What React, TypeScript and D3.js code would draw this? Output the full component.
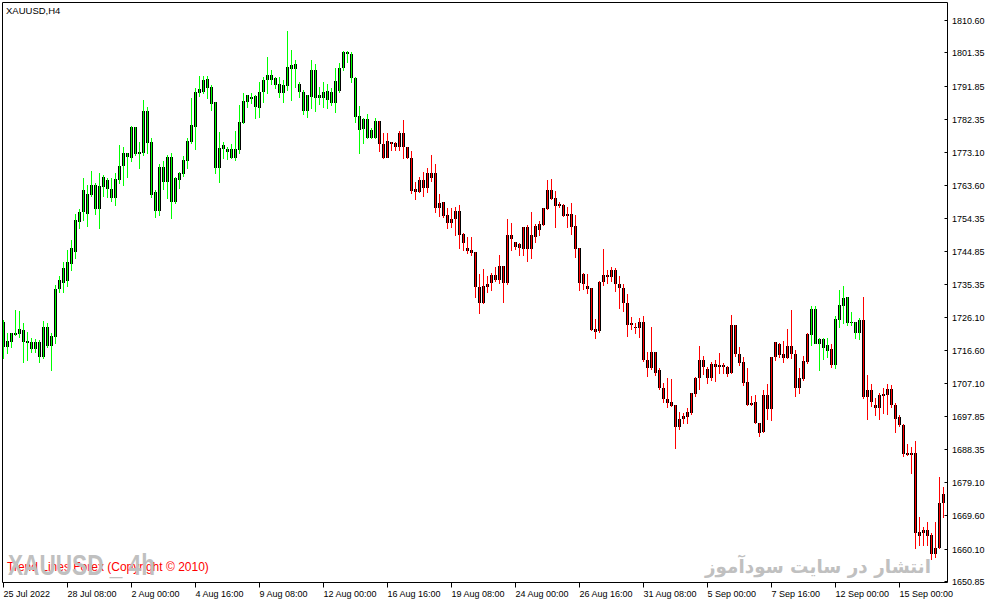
import * as d3 from 'd3';
import { useEffect, useRef } from 'react';

// XAUUSD H4, 236 bars
const symbolTitle = 'XAUUSD,H4';

const opens = [
	1724.6, 1717.5, 1718.9, 1720.9, 1721.2, 1722.4, 1719.2, 1718.9, 1718.9, 1718.9, 1714.7, 1723.2,
	1717.8, 1720.4, 1734.0, 1735.7, 1736.3, 1741.1, 1744.6, 1753.1, 1755.9, 1761.1, 1760.8, 1763.6,
	1756.8, 1763.1, 1765.1, 1762.5, 1759.9, 1765.1, 1769.0, 1772.7, 1771.3, 1780.1, 1772.5, 1772.7,
	1784.7, 1775.9, 1761.6, 1756.2, 1768.8, 1764.5, 1771.6, 1758.8, 1765.1, 1766.8, 1770.5, 1775.9,
	1780.1, 1789.8, 1790.1, 1793.8, 1791.5, 1787.3, 1768.5, 1775.0, 1773.9, 1773.9, 1771.3, 1773.6,
	1781.3, 1787.3, 1788.7, 1789.0, 1785.5, 1790.1, 1793.5, 1795.0, 1794.1, 1792.4, 1789.8, 1791.8,
	1796.7, 1798.1, 1792.4, 1790.1, 1784.7, 1788.7, 1796.4, 1788.4, 1790.1, 1790.4, 1790.1, 1787.0,
	1790.4, 1796.9, 1801.5, 1800.9, 1794.1, 1783.3, 1779.6, 1782.4, 1777.0, 1777.0, 1781.9, 1775.3,
	1771.3, 1775.9, 1775.6, 1774.5, 1778.4, 1774.5, 1771.3, 1761.6, 1761.6, 1765.1, 1762.8, 1767.0,
	1767.0, 1757.1, 1758.8, 1755.1, 1752.8, 1753.9, 1756.2, 1749.7, 1745.7, 1745.1, 1744.6, 1734.6,
	1730.0, 1734.6, 1735.7, 1738.0, 1736.6, 1740.6, 1735.7, 1749.4, 1747.4, 1746.8, 1745.4, 1751.7,
	1745.4, 1748.8, 1750.8, 1752.2, 1756.8, 1762.2, 1759.9, 1757.6, 1757.9, 1754.8, 1755.4, 1752.0,
	1745.7, 1738.3, 1734.9, 1734.3, 1722.6, 1722.1, 1736.0, 1738.0, 1737.4, 1739.4, 1735.4, 1734.3,
	1730.0, 1723.8, 1723.2, 1722.9, 1724.6, 1713.8, 1711.5, 1716.1, 1710.9, 1705.8, 1702.7, 1701.9,
	1701.0, 1694.7, 1697.0, 1697.6, 1698.7, 1704.1, 1708.7, 1713.8, 1711.2, 1708.7, 1712.7, 1711.8,
	1712.4, 1711.8, 1710.1, 1723.8, 1715.5, 1713.2, 1707.5, 1701.0, 1701.9, 1695.9, 1693.3, 1703.8,
	1699.9, 1714.7, 1718.4, 1715.5, 1714.4, 1717.8, 1715.5, 1705.8, 1708.4, 1713.2, 1720.9, 1728.3,
	1718.4, 1719.8, 1718.1, 1716.9, 1712.4, 1725.2, 1729.2, 1731.7, 1724.3, 1724.6, 1721.5, 1725.2,
	1703.3, 1705.3, 1701.0, 1700.1, 1703.6, 1703.8, 1705.5, 1701.0, 1697.6, 1695.3, 1686.8, 1687.3,
	1687.3, 1663.7, 1665.4, 1665.4, 1664.0, 1658.6, 1660.3, 1673.1,
];

const highs = [
	1725.2, 1721.5, 1721.5, 1728.0, 1727.8, 1724.3, 1721.8, 1720.1, 1719.8, 1719.5, 1724.9, 1724.3,
	1721.5, 1735.2, 1737.7, 1741.7, 1745.1, 1748.0, 1755.4, 1756.8, 1765.6, 1763.6, 1767.6, 1764.2,
	1767.0, 1766.5, 1765.6, 1765.6, 1767.0, 1775.0, 1774.5, 1772.7, 1780.4, 1780.1, 1775.9, 1787.8,
	1785.8, 1777.0, 1762.2, 1769.6, 1770.5, 1772.2, 1772.7, 1765.9, 1767.3, 1771.9, 1777.0, 1788.4,
	1791.2, 1794.7, 1794.7, 1794.7, 1792.1, 1787.3, 1778.7, 1775.9, 1774.5, 1775.3, 1779.0, 1786.4,
	1789.8, 1789.3, 1789.8, 1789.3, 1793.0, 1794.4, 1800.1, 1796.4, 1794.4, 1794.4, 1793.5, 1807.5,
	1802.1, 1799.2, 1793.0, 1790.7, 1789.3, 1799.2, 1798.1, 1791.5, 1793.0, 1792.4, 1791.2, 1796.9,
	1798.4, 1801.8, 1801.8, 1801.5, 1794.4, 1786.1, 1782.7, 1783.8, 1779.9, 1782.7, 1781.9, 1778.4,
	1778.4, 1775.9, 1775.9, 1779.0, 1782.1, 1774.5, 1773.3, 1764.5, 1765.9, 1767.3, 1768.5, 1772.2,
	1769.6, 1761.1, 1758.8, 1757.1, 1757.1, 1757.4, 1757.9, 1750.0, 1748.8, 1748.8, 1744.6, 1738.3,
	1739.7, 1737.7, 1738.6, 1740.3, 1743.7, 1740.6, 1753.9, 1752.8, 1747.4, 1747.1, 1751.7, 1752.2,
	1755.9, 1752.5, 1753.4, 1757.1, 1765.1, 1765.3, 1761.9, 1758.8, 1758.2, 1757.4, 1758.5, 1755.1,
	1745.7, 1738.6, 1738.3, 1734.3, 1725.5, 1736.3, 1745.4, 1739.4, 1740.3, 1740.0, 1737.7, 1735.4,
	1732.6, 1726.0, 1724.3, 1725.8, 1726.3, 1716.1, 1723.2, 1716.1, 1711.5, 1707.3, 1708.7, 1708.4,
	1701.0, 1699.0, 1698.7, 1700.1, 1704.4, 1709.0, 1717.8, 1714.9, 1711.8, 1713.2, 1713.8, 1715.8,
	1713.0, 1712.1, 1726.6, 1723.8, 1717.5, 1714.7, 1711.5, 1703.6, 1703.8, 1695.9, 1705.3, 1707.0,
	1714.7, 1718.9, 1718.6, 1719.2, 1722.6, 1728.0, 1716.7, 1711.5, 1714.9, 1721.5, 1729.2, 1729.2,
	1720.1, 1720.1, 1720.1, 1718.4, 1726.3, 1733.7, 1734.9, 1731.7, 1727.5, 1724.6, 1725.8, 1731.7,
	1709.5, 1707.0, 1703.0, 1704.4, 1705.8, 1707.0, 1706.7, 1701.6, 1698.2, 1695.6, 1689.9, 1689.0,
	1690.7, 1669.1, 1666.3, 1667.7, 1664.5, 1667.7, 1680.5, 1677.6,
];

const lows = [
	1714.4, 1715.8, 1717.5, 1720.9, 1720.4, 1713.2, 1713.8, 1716.1, 1716.1, 1713.2, 1714.4, 1717.5,
	1711.0, 1718.6, 1733.2, 1733.2, 1734.9, 1739.4, 1742.8, 1751.4, 1753.7, 1752.0, 1760.5, 1755.4,
	1751.4, 1760.5, 1760.2, 1759.1, 1757.9, 1764.2, 1763.6, 1765.9, 1770.5, 1772.2, 1768.5, 1772.2,
	1772.7, 1760.2, 1754.5, 1755.1, 1762.5, 1759.9, 1754.2, 1758.5, 1762.8, 1766.2, 1768.5, 1775.6,
	1773.9, 1789.0, 1789.8, 1788.4, 1785.0, 1767.0, 1764.5, 1771.3, 1771.0, 1771.3, 1770.7, 1772.7,
	1781.3, 1785.8, 1787.0, 1782.7, 1783.0, 1787.3, 1789.8, 1792.4, 1791.2, 1788.7, 1787.3, 1790.7,
	1787.8, 1791.5, 1788.7, 1783.8, 1783.0, 1785.5, 1784.7, 1786.7, 1785.8, 1785.5, 1786.4, 1784.4,
	1790.1, 1796.4, 1798.6, 1793.0, 1781.6, 1772.7, 1775.6, 1777.0, 1777.0, 1777.0, 1773.3, 1771.3,
	1771.6, 1773.6, 1773.6, 1773.6, 1771.3, 1771.3, 1761.4, 1759.6, 1761.6, 1760.5, 1761.6, 1764.8,
	1755.9, 1754.8, 1754.5, 1751.4, 1751.7, 1749.4, 1745.7, 1745.1, 1744.3, 1743.7, 1731.7, 1727.2,
	1730.0, 1733.2, 1733.7, 1736.3, 1735.7, 1730.3, 1735.4, 1745.1, 1745.4, 1743.7, 1743.7, 1742.0,
	1742.8, 1747.4, 1749.4, 1752.2, 1756.8, 1759.6, 1751.7, 1757.4, 1754.8, 1751.7, 1749.7, 1743.1,
	1733.7, 1734.0, 1732.9, 1722.4, 1720.1, 1721.8, 1735.2, 1735.7, 1736.3, 1733.5, 1728.6, 1727.8,
	1720.6, 1722.6, 1721.5, 1720.4, 1713.5, 1709.3, 1711.2, 1709.5, 1705.5, 1701.8, 1700.4, 1700.7,
	1688.8, 1694.2, 1695.9, 1695.9, 1698.4, 1703.6, 1705.5, 1709.8, 1707.3, 1708.1, 1707.8, 1710.1,
	1710.1, 1709.3, 1710.1, 1715.0, 1712.4, 1706.7, 1701.0, 1701.0, 1695.9, 1692.2, 1693.3, 1697.0,
	1696.7, 1713.8, 1714.7, 1713.2, 1714.4, 1714.4, 1703.6, 1704.4, 1708.1, 1713.0, 1718.1, 1718.6,
	1710.9, 1714.1, 1714.7, 1711.8, 1711.5, 1723.2, 1724.3, 1723.8, 1723.8, 1720.1, 1719.8, 1703.0,
	1697.0, 1700.7, 1698.2, 1697.0, 1698.7, 1698.4, 1700.4, 1693.3, 1695.0, 1686.5, 1686.8, 1681.6,
	1660.3, 1661.1, 1661.1, 1661.1, 1657.2, 1657.7, 1660.3, 1669.1,
];

const closes = [
	1717.5, 1719.2, 1721.5, 1721.5, 1722.6, 1718.9, 1718.6, 1716.9, 1716.9, 1714.7, 1723.2, 1717.8,
	1720.6, 1734.0, 1736.6, 1740.0, 1741.7, 1745.7, 1753.7, 1755.9, 1762.2, 1755.4, 1763.6, 1756.8,
	1763.3, 1765.9, 1762.5, 1759.9, 1765.3, 1769.0, 1772.7, 1771.6, 1780.1, 1772.5, 1773.0, 1784.7,
	1775.6, 1760.8, 1756.2, 1768.8, 1764.5, 1771.6, 1758.8, 1765.6, 1767.0, 1770.7, 1776.2, 1780.7,
	1790.1, 1791.0, 1793.5, 1791.2, 1786.7, 1768.5, 1774.2, 1773.9, 1773.0, 1771.3, 1773.9, 1781.6,
	1787.5, 1789.3, 1788.1, 1785.8, 1790.1, 1793.5, 1795.0, 1793.5, 1792.1, 1789.8, 1792.1, 1797.2,
	1797.8, 1796.7, 1790.1, 1784.7, 1789.3, 1796.4, 1788.4, 1789.3, 1788.4, 1787.8, 1787.0, 1793.2,
	1796.9, 1801.5, 1800.9, 1794.1, 1783.0, 1779.3, 1782.4, 1777.0, 1779.3, 1781.9, 1775.3, 1771.3,
	1776.2, 1775.3, 1774.5, 1778.4, 1774.5, 1771.3, 1761.9, 1762.5, 1765.1, 1762.8, 1767.0, 1765.6,
	1757.1, 1758.5, 1754.8, 1752.8, 1753.9, 1756.2, 1749.4, 1747.1, 1744.8, 1744.3, 1734.6, 1730.0,
	1734.9, 1735.4, 1738.0, 1736.6, 1740.6, 1735.7, 1749.4, 1748.3, 1746.0, 1745.7, 1751.7, 1745.4,
	1749.4, 1752.0, 1752.5, 1757.1, 1762.2, 1759.6, 1757.6, 1758.2, 1754.8, 1755.4, 1751.7, 1745.4,
	1735.7, 1735.4, 1734.0, 1722.4, 1721.8, 1736.0, 1738.0, 1737.4, 1739.4, 1735.4, 1734.3, 1730.0,
	1723.8, 1724.3, 1722.9, 1724.6, 1713.8, 1711.5, 1716.1, 1710.1, 1705.8, 1702.7, 1701.6, 1700.7,
	1694.7, 1697.0, 1697.9, 1699.0, 1704.4, 1708.7, 1713.8, 1711.8, 1708.7, 1712.7, 1711.8, 1712.4,
	1711.8, 1709.8, 1723.8, 1715.5, 1713.0, 1707.3, 1701.0, 1701.6, 1695.9, 1693.0, 1703.8, 1699.9,
	1714.7, 1718.9, 1715.2, 1714.4, 1717.8, 1715.5, 1705.8, 1708.7, 1713.5, 1721.2, 1728.3, 1718.4,
	1719.8, 1717.2, 1716.4, 1712.4, 1725.5, 1729.5, 1731.5, 1724.3, 1724.6, 1721.5, 1725.2, 1703.3,
	1705.3, 1701.9, 1700.1, 1703.8, 1704.1, 1705.5, 1701.0, 1697.0, 1695.3, 1687.0, 1687.3, 1686.8,
	1664.5, 1664.8, 1664.5, 1663.7, 1658.6, 1660.3, 1673.1, 1675.7,
];

// bar index ranges where the overlay wick is lime (the rest is red)
const limeRanges: [number, number][] = [
	[0, 93],
	[202, 206],
	[208, 214],
];

const priceTicks = [
	1810.6, 1801.35, 1791.85, 1782.35, 1773.1, 1763.6, 1754.35, 1744.85, 1735.35, 1726.1, 1716.6,
	1707.1, 1697.85, 1688.35, 1679.1, 1669.6, 1660.1, 1650.85,
];

const timeLabels = [
	'25 Jul 2022', '28 Jul 08:00', '2 Aug 00:00', '4 Aug 16:00', '9 Aug 08:00', '12 Aug 00:00',
	'16 Aug 16:00', '19 Aug 08:00', '24 Aug 00:00', '26 Aug 16:00', '31 Aug 08:00', '5 Sep 00:00',
	'7 Sep 16:00', '12 Sep 00:00', '15 Sep 00:00',
];
const timeLabelBars = [0, 16, 32, 48, 64, 80, 96, 112, 128, 144, 160, 176, 192, 208, 224];

const watermark = 'XAUUSD _ 4h';
const copyrightText = 'Trend Lines Forex (Copyright © 2010)';
const persianText = 'انتشار در سایت سودآموز';

const W = 991;
const H = 605;
const font = '"Liberation Sans", Arial, sans-serif';

const Chart = () => {
	const ref = useRef<SVGSVGElement>(null);

	useEffect(() => {
		const svg = d3.select(ref.current);
		svg.selectAll('*').remove();

		// рамка графика
		const frame = { left: 2.5, top: 2.5, right: 947.5, bottom: 582.5 };

		const x = d3
			.scaleLinear()
			.domain([0, opens.length - 1])
			.range([3.5, 943.5]);
		const y = d3
			.scaleLinear()
			.domain([priceTicks[priceTicks.length - 1], priceTicks[0]])
			.range([581, 20]);

		svg.append('rect').attr('width', W).attr('height', H).attr('fill', '#ffffff');

		const isLime = (i: number) => limeRanges.some(([a, b]) => i >= a && i <= b);
		const bars = d3.range(opens.length);

		// тела свечей
		svg
			.append('g')
			.selectAll('rect')
			.data(bars)
			.enter()
			.append('rect')
			.attr('x', (i) => x(i) - 1.5)
			.attr('y', (i) => Math.round(y(Math.max(opens[i], closes[i]))))
			.attr('width', 3)
			.attr('height', (i) =>
				Math.max(1, Math.round(y(Math.min(opens[i], closes[i]))) - Math.round(y(Math.max(opens[i], closes[i])))),
			)
			.attr('fill', '#000000');

		// тени поверх тел
		svg
			.append('g')
			.selectAll('rect')
			.data(bars)
			.enter()
			.append('rect')
			.attr('x', (i) => x(i) - 0.5)
			.attr('y', (i) => Math.round(y(highs[i])))
			.attr('width', 1)
			.attr('height', (i) => Math.round(y(lows[i])) - Math.round(y(highs[i])) + 1)
			.attr('fill', (i) => (isLime(i) ? '#00ff00' : '#ff0000'));

		// рамка
		svg
			.append('path')
			.attr(
				'd',
				`M${frame.left},${frame.top}H${frame.right}V${frame.bottom}H${frame.left}Z`,
			)
			.attr('fill', 'none')
			.attr('stroke', '#000000')
			.attr('stroke-width', 1);

		// шкала цен
		const py = svg.append('g');
		priceTicks.forEach((v) => {
			const yy = Math.round(y(v)) + 0.5;
			py.append('line')
				.attr('x1', frame.right - 3)
				.attr('x2', frame.right)
				.attr('y1', yy)
				.attr('y2', yy)
				.attr('stroke', '#000000');
			py.append('text')
				.attr('x', 952)
				.attr('y', yy + 3)
				.attr('font-family', font)
				.attr('font-size', 9)
				.attr('fill', '#000000')
				.text(v.toFixed(2));
		});

		// шкала времени
		const tx = svg.append('g');
		timeLabels.forEach((label, k) => {
			const xx = Math.floor(x(timeLabelBars[k])) + 0.5;
			tx.append('line')
				.attr('x1', xx)
				.attr('x2', xx)
				.attr('y1', frame.bottom)
				.attr('y2', frame.bottom + 5)
				.attr('stroke', '#000000');
			tx.append('text')
				.attr('x', xx)
				.attr('y', 597)
				.attr('font-family', font)
				.attr('font-size', 9)
				.attr('fill', '#000000')
				.text(label);
		});

		// заголовок
		svg
			.append('text')
			.attr('x', 6)
			.attr('y', 14)
			.attr('font-family', font)
			.attr('font-size', 9.5)
			.attr('fill', '#000000')
			.text(symbolTitle);

		// подписи внизу
		svg
			.append('text')
			.attr('x', 7)
			.attr('y', 571)
			.attr('font-family', font)
			.attr('font-size', 12)
			.attr('fill', '#ff0000')
			.text(copyrightText);

		svg
			.append('text')
			.attr('x', 8)
			.attr('y', 575)
			.attr('font-family', font)
			.attr('font-weight', 'bold')
			.attr('font-size', 30)
			.attr('textLength', 147)
			.attr('lengthAdjust', 'spacingAndGlyphs')
			.attr('fill', '#c0c0c0')
			.text(watermark);

		svg
			.append('text')
			.attr('x', 818)
			.attr('y', 573)
			.attr('text-anchor', 'middle')
			.attr('font-family', '"DejaVu Sans", sans-serif')
			.attr('font-weight', 'bold')
			.attr('font-size', 19)
			.attr('textLength', 226)
			.attr('lengthAdjust', 'spacingAndGlyphs')
			.attr('fill', '#c0c0c0')
			.text(persianText);
	}, []);

	return (
		<svg
			ref={ref}
			width={W}
			height={H}
			style={{ position: 'absolute', left: 0, top: 0, display: 'block' }}
		></svg>
	);
};

export default function App() {
	return <Chart />;
}
